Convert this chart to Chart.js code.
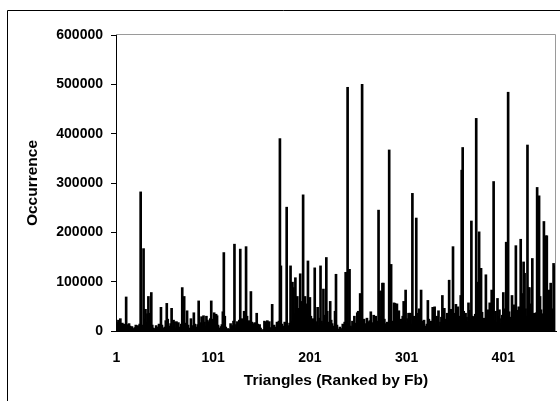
<!DOCTYPE html>
<html>
<head>
<meta charset="utf-8">
<title>Occurrence</title>
<script src="https://cdn.jsdelivr.net/npm/chart.js@4/dist/chart.umd.min.js"></script>
<style>
	html, body { margin: 0; padding: 0; background: #fff; }
</style>
</head>
<body>
<canvas id="myChart" width="560" height="401"></canvas>
<script>
/* Occurrence of each triangle, in rank order (rank 1 first). */
const occurrence = [
	18000, 15000, 22000, 12000, 25000, 9000, 16000, 11000, 14000, 7000,
	69000, 13000, 8000, 15000, 10000, 6000, 9000, 5000, 4000, 7000,
	12000, 6000, 11000, 8000, 14000, 282000, 9000, 12000, 167000, 24000,
	44000, 18000, 35000, 70000, 36000, 26000, 78000, 12000, 6000, 3000,
	5000, 11000, 4000, 8000, 14000, 9000, 48000, 12000, 6000, 3000,
	8000, 21000, 56000, 24000, 10000, 7000, 15000, 46000, 9000, 22000,
	18000, 6000, 19000, 12000, 17000, 5000, 8000, 14000, 88000, 25000,
	70000, 16000, 9000, 41000, 12000, 6000, 4000, 25000, 11000, 3000,
	37000, 14000, 8000, 5000, 13000, 61000, 17000, 9000, 29000, 15000,
	31000, 18000, 10000, 30000, 22000, 19000, 14000, 25000, 61000, 20000,
	24000, 37000, 28000, 34000, 31000, 12000, 6000, 4000, 9000, 13000,
	39000, 159000, 30000, 8000, 3000, 5000, 2000, 4000, 15000, 8000,
	11000, 20000, 176000, 6000, 13000, 19000, 10000, 22000, 166000, 17000,
	25000, 18000, 40000, 27000, 171000, 30000, 14000, 21000, 16000, 80000,
	18000, 15000, 12000, 17000, 9000, 36000, 14000, 11000, 13000, 6000,
	2000, 1000, 3000, 20000, 18000, 4000, 21000, 10000, 19000, 7000,
	5000, 54000, 3000, 12000, 8000, 4000, 18000, 9000, 20000, 390000,
	132000, 14000, 10000, 6000, 18000, 12000, 251000, 9000, 11000, 16000,
	132000, 20000, 99000, 88000, 35000, 108000, 24000, 70000, 46000, 29000,
	116000, 60000, 18000, 276000, 40000, 70000, 55000, 22000, 142000, 17000,
	68000, 30000, 15000, 25000, 10000, 128000, 14000, 19000, 48000, 12000,
	26000, 132000, 20000, 16000, 85000, 32000, 12000, 149000, 40000, 18000,
	9000, 60000, 22000, 15000, 6000, 10000, 40000, 115000, 12000, 4000,
	3000, 8000, 2000, 5000, 14000, 6000, 18000, 119000, 20000, 494000,
	15000, 125000, 10000, 7000, 20000, 12000, 30000, 16000, 9000, 37000,
	40000, 14000, 76000, 22000, 500000, 18000, 24000, 15000, 11000, 26000,
	19000, 13000, 21000, 39000, 17000, 12000, 32000, 25000, 30000, 9000,
	20000, 245000, 81000, 30000, 81000, 97000, 97000, 24000, 12000, 15000,
	18000, 10000, 367000, 28000, 135000, 20000, 14000, 57000, 56000, 22000,
	55000, 16000, 41000, 12000, 24000, 8000, 30000, 60000, 20000, 83000,
	18000, 25000, 36000, 36000, 36000, 14000, 279000, 20000, 30000, 12000,
	229000, 36000, 18000, 45000, 26000, 83000, 15000, 20000, 22000, 10000,
	8000, 14000, 62000, 24000, 12000, 20000, 16000, 48000, 26000, 49000,
	14000, 30000, 22000, 41000, 10000, 18000, 28000, 72000, 20000, 46000,
	24000, 15000, 36000, 28000, 103000, 30000, 44000, 22000, 171000, 36000,
	26000, 54000, 32000, 49000, 24000, 30000, 72000, 326000, 372000, 40000,
	36000, 36000, 28000, 20000, 57000, 42000, 25000, 223000, 30000, 29000,
	22000, 34000, 431000, 48000, 99000, 201000, 35000, 127000, 38000, 20000,
	26000, 18000, 114000, 30000, 43000, 24000, 57000, 36000, 83000, 28000,
	303000, 22000, 40000, 18000, 66000, 30000, 43000, 15000, 25000, 32000,
	78000, 26000, 45000, 180000, 34000, 484000, 39000, 28000, 20000, 72000,
	36000, 53000, 30000, 173000, 42000, 24000, 49000, 38000, 186000, 76000,
	60000, 140000, 117000, 45000, 30000, 377000, 88000, 88000, 55000, 36000,
	147000, 28000, 36000, 22000, 37000, 291000, 50000, 274000, 70000, 43000,
	30000, 35000, 222000, 48000, 193000, 193000, 60000, 83000, 40000, 97000,
	30000, 45000, 137000, 132000, 112000
];

// Rank numbers used as categories, and the ones printed under the axis
const ranks = occurrence.map((v, i) => String(i + 1));
const xTickLabels = ['1', '101', '201', '301', '401'];

// Axis range
const yMax = 600000;
const yStep = 100000;

const labelFont = { family: "'Liberation Sans', Arial, sans-serif", weight: 'bold', size: 14 };
const titleFont = { family: "'Liberation Sans', Arial, sans-serif", weight: 'bold', size: 15.5 };

// Outer frame plus the grey border on top/right of the plot area
const frames = {
	id: 'frames',
	beforeDraw: function (chart) {
		const ctx = chart.ctx;
		ctx.save();
		ctx.fillStyle = '#fff';
		ctx.fillRect(0, 0, chart.width, chart.height);
		ctx.strokeStyle = '#000';
		ctx.lineWidth = 1;
		ctx.beginPath();
		ctx.moveTo(7.5, chart.height);
		ctx.lineTo(7.5, 10.5);
		ctx.lineTo(chart.width, 10.5);
		ctx.stroke();
		ctx.restore();
	},
	afterDatasetsDraw: function (chart) {
		const a = chart.chartArea;
		const ctx = chart.ctx;
		ctx.save();
		ctx.strokeStyle = '#9a9a9a';
		ctx.lineWidth = 1;
		ctx.beginPath();
		ctx.moveTo(a.left, Math.round(a.top) - 0.5);
		ctx.lineTo(Math.round(a.right) - 0.5, Math.round(a.top) - 0.5);
		ctx.lineTo(Math.round(a.right) - 0.5, a.bottom);
		ctx.stroke();
		ctx.restore();
	},
};

const chartContainer = document.getElementById('myChart').getContext('2d');
const chartConfig = {
	type: 'bar',
	data: {
		labels: ranks,
		datasets: [
			{
				data: occurrence,
				backgroundColor: '#000',
				borderWidth: 0,
				barThickness: 2,
			},
		],
	},
	options: {
		responsive: false,
		devicePixelRatio: 1,
		animation: false,
		layout: {
			padding: { left: 0, top: 35, right: 4, bottom: 0 },
		},
		scales: {
			x: {
				grid: { display: false },
				border: { display: true, color: '#000', width: 1 },
				ticks: {
					autoSkip: false,
					maxRotation: 0,
					padding: 11,
					color: '#000',
					font: labelFont,
					callback: function (value) {
						const label = this.getLabelForValue(value);
						return xTickLabels.includes(label) ? label : null;
					},
				},
				title: {
					display: true,
					text: 'Triangles (Ranked by Fb)',
					color: '#000',
					font: titleFont,
					padding: { top: 0, bottom: 11 },
				},
				afterFit: function (scale) {
					scale.height = 70;
				},
			},
			y: {
				min: 0,
				max: yMax,
				grid: {
					drawOnChartArea: false,
					drawTicks: true,
					tickLength: 5,
					color: '#000',
				},
				border: { display: true, color: '#000', width: 1 },
				ticks: {
					stepSize: yStep,
					padding: 8,
					color: '#000',
					font: labelFont,
					callback: function (value) {
						return String(value);
					},
				},
				title: {
					display: true,
					text: 'Occurrence',
					color: '#000',
					font: titleFont,
					padding: { top: 23, bottom: 0 },
				},
				afterFit: function (scale) {
					scale.width = 116;
				},
			},
		},
		plugins: {
			legend: { display: false },
			tooltip: { enabled: false },
		},
	},
	plugins: [frames],
};

const myChart = new Chart(chartContainer, chartConfig);
</script>
</body>
</html>
